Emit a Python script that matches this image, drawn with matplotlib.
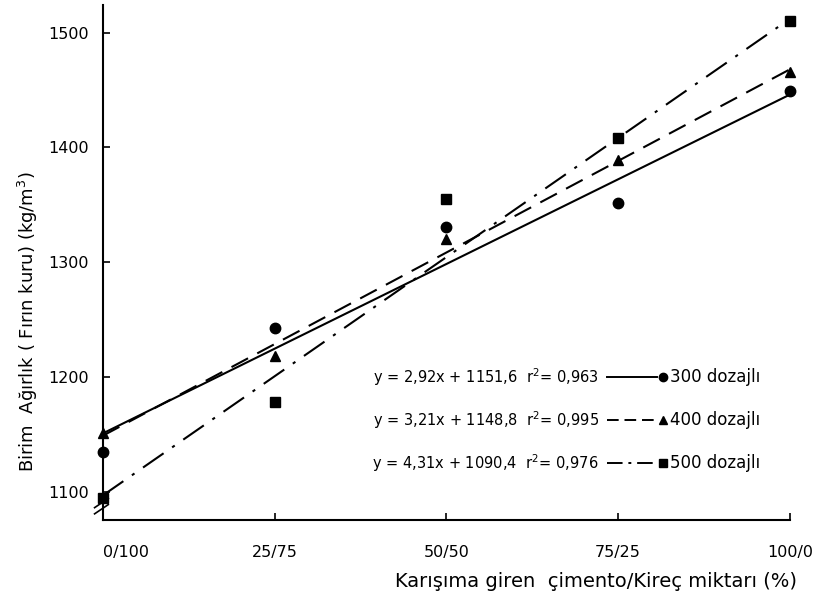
import matplotlib.pyplot as plt

# mixture ratios (cement/lime) on the x axis
x_pos = [0, 25, 50, 75, 100]
x_labels = ["0/100", "25/75", "50/50", "75/25", "100/0"]

w300 = [1135, 1243, 1331, 1352, 1449]
w400 = [1151, 1218, 1320, 1389, 1466]
w500 = [1095, 1178, 1355, 1408, 1510]

# regression lines as drawn, start (x=0) and end (x=100)
fit_x = [0, 100]
fit300 = [1151, 1446]
fit400 = [1149, 1468]
fit500 = [1097, 1512]

# text of the equations
eq300 = "y = 2,92x + 1151,6  r$^2$= 0,963"
eq400 = "y = 3,21x + 1148,8  r$^2$= 0,995"
eq500 = "y = 4,31x + 1090,4  r$^2$= 0,976"
names = ["300 dozajlı", "400 dozajlı", "500 dozajlı"]

plt.rcParams["font.family"] = ["DejaVu Sans"]

fig = plt.figure(figsize=(8.16, 5.98), dpi=100)
ax = fig.add_axes([0.126, 0.1304, 0.842, 0.8612])

# fitted lines
ax.plot(fit_x, fit300, color="black", lw=1.5, linestyle="-")
ax.plot(fit_x, fit400, color="black", lw=1.5, linestyle=(0, (9, 5)))
ax.plot(fit_x, fit500, color="black", lw=1.5, linestyle=(0, (12, 5, 1.5, 5)))

# the points
ax.plot(x_pos, w300, "o", color="black", ms=7.5, clip_on=False)
ax.plot(x_pos, w400, "^", color="black", ms=7.5, clip_on=False)
ax.plot(x_pos, w500, "s", color="black", ms=6.5, clip_on=False)

ax.set_xlim(0, 100)
ax.set_ylim(1075.6, 1524)
ax.set_xticks(x_pos)
ax.set_xticklabels(x_labels)
ax.set_yticks([1100, 1200, 1300, 1400, 1500])
ax.tick_params(direction="in", length=5, width=1.2, labelsize=11.5)
ax.tick_params(axis="x", pad=18)
ax.tick_params(axis="y", pad=10)
# first label sits to the right of the axis like in the scan
ax.get_xticklabels()[0].set_horizontalalignment("left")
ax.spines["top"].set_visible(False)
ax.spines["right"].set_visible(False)
ax.spines["left"].set_linewidth(1.5)
ax.spines["bottom"].set_linewidth(1.5)

# break marks on the y axis
for dy in [0.0, 0.012]:
    ax.plot([-0.012, 0.008], [0.012 + dy, 0.03 + dy], transform=ax.transAxes,
            color="black", lw=1.2, clip_on=False)

ax.set_xlabel("Karışıma giren  çimento/Kireç miktarı (%)", fontsize=14)
ax.xaxis.set_label_coords(0.718, -0.10)
ax.set_ylabel("Birim  Ağırlık ( Fırın kuru) (kg/m$^3$)", fontsize=13)
ax.yaxis.set_label_coords(-0.092, 0.385)

# legend written by hand like in the original
rows_y = [0.278, 0.194, 0.111]
styles = ["-", (0, (6, 3)), (0, (8, 3, 1.5, 3))]
marks = ["o", "^", "s"]
for eq, name, yy, st, mk in zip([eq300, eq400, eq500], names, rows_y, styles, marks):
    ax.text(0.722, yy, eq, transform=ax.transAxes, fontsize=10.5, va="center", ha="right")
    ax.plot([0.734, 0.806], [yy, yy], transform=ax.transAxes, color="black",
            lw=1.4, linestyle=st)
    ax.plot([0.815], [yy], marker=mk, color="black", ms=6, transform=ax.transAxes)
    ax.text(0.826, yy, name, transform=ax.transAxes, fontsize=12, va="center", ha="left")

plt.savefig("out.png", dpi=100)
